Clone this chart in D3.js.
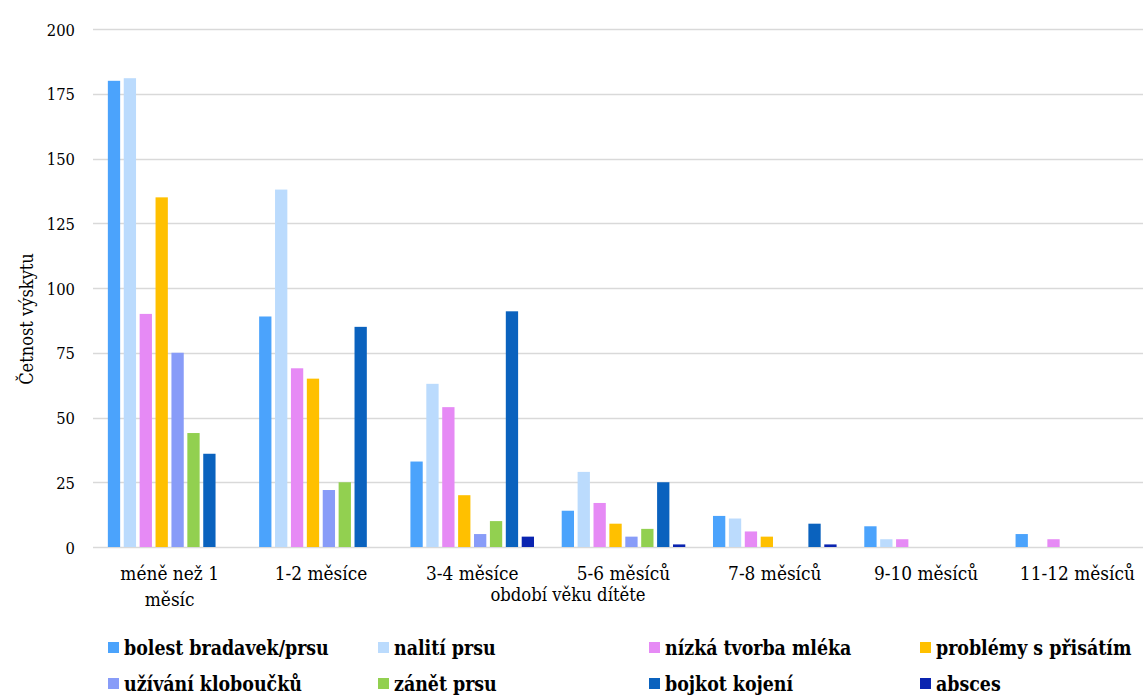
<!DOCTYPE html>
<html lang="cs">
<head>
<meta charset="utf-8">
<script src="https://cdn.jsdelivr.net/npm/d3@7"></script>
<style>
  html, body { margin: 0; padding: 0; background: #fff; }
  svg { display: block; }
</style>
</head>
<body>
<svg id="chart" width="1143" height="695"></svg>
<script>
// Serif face, narrowed horizontally to a Times-like width
const FONT = "DejaVu Serif";
const NARROW = 0.88;

// Age periods of the child (x categories)
const categories = [
  "méně než 1 měsíc", "1-2 měsíce", "3-4 měsíce", "5-6 měsíců",
  "7-8 měsíců", "9-10 měsíců", "11-12 měsíců"
];
// Category labels split into lines
const categoryLines = [
  ["méně než 1", "měsíc"], ["1-2 měsíce"], ["3-4 měsíce"], ["5-6 měsíců"],
  ["7-8 měsíců"], ["9-10 měsíců"], ["11-12 měsíců"]
];

// Problems during breastfeeding (series)
const seriesNames = [
  "bolest bradavek/prsu", "nalití prsu", "nízká tvorba mléka", "problémy s přisátím",
  "užívání kloboučků", "zánět prsu", "bojkot kojení", "absces"
];
const seriesColors = [
  "#4ba3fc", "#bbdbfd", "#e68af5", "#ffc000",
  "#889cf8", "#92d050", "#0a62be", "#0a24b0"
];

// Counts per series, one value per age period
const bolestBradavek  = [180, 89, 33, 14, 12, 8, 5];
const nalitiPrsu      = [181, 138, 63, 29, 11, 3, 0];
const nizkaTvorba     = [90, 69, 54, 17, 6, 3, 3];
const problemyPrisati = [135, 65, 20, 9, 4, 0, 0];
const uzivaniKlobouck = [75, 22, 5, 4, 0, 0, 0];
const zanetPrsu       = [44, 25, 10, 7, 0, 0, 0];
const bojkotKojeni    = [36, 85, 91, 25, 9, 0, 0];
const absces          = [0, 0, 4, 1, 1, 0, 0];

const seriesValues = [
  bolestBradavek, nalitiPrsu, nizkaTvorba, problemyPrisati,
  uzivaniKlobouck, zanetPrsu, bojkotKojeni, absces
];

const yTicks = [0, 25, 50, 75, 100, 125, 150, 175, 200];

const svg = d3.select("#chart");

// Plot area
const plotLeft = 94, plotRight = 1153, plotTop = 29, plotBottom = 547;

const x0 = d3.scaleBand()
  .domain(categories)
  .range([plotLeft, plotRight])
  .paddingInner(0)
  .paddingOuter(0);

const groupPad = 13.85;
const x1 = d3.scaleBand()
  .domain(seriesNames)
  .range([groupPad, x0.bandwidth() - groupPad])
  .paddingInner(0.2264)
  .paddingOuter(0);

const y = d3.scaleLinear().domain([0, 200]).range([plotBottom, plotTop]);

// Horizontal gridlines
svg.append("g")
  .selectAll("line")
  .data(yTicks)
  .join("line")
  .attr("x1", plotLeft - 1)
  .attr("x2", 1143)
  .attr("y1", d => Math.round(y(d)) + 0.5)
  .attr("y2", d => Math.round(y(d)) + 0.5)
  .attr("stroke", "#d9d9d9")
  .attr("stroke-width", 1.3);

// Y axis tick labels
const yAxis = d3.axisLeft(y).tickValues(yTicks).tickSize(0).tickPadding(0);
const yg = svg.append("g")
  .attr("transform", "translate(75,0)")
  .call(yAxis)
  .attr("font-family", FONT)
  .attr("font-size", 16.8);
yg.select(".domain").remove();
yg.selectAll("text")
  .attr("x", 0)
  .attr("fill", "#000")
  .attr("dy", "0.36em")
  .attr("transform", `scale(${NARROW},1)`);

// Bars
const rows = [];
categories.forEach((c, ci) => {
  seriesNames.forEach((s, si) => {
    rows.push({ category: c, series: s, color: seriesColors[si], value: seriesValues[si][ci] });
  });
});

svg.append("g")
  .selectAll("rect")
  .data(rows.filter(d => d.value > 0))
  .join("rect")
  .attr("x", d => x0(d.category) + x1(d.series))
  .attr("y", d => y(d.value))
  .attr("width", x1.bandwidth())
  .attr("height", d => y(0) - y(d.value))
  .attr("fill", d => d.color);

// X category labels
const xl = svg.append("g");
categories.forEach((c, i) => {
  const cx = x0(c) + x0.bandwidth() / 2;
  const t = xl.append("text")
    .attr("transform", `translate(${cx},580) scale(${NARROW},1)`)
    .attr("text-anchor", "middle")
    .attr("font-family", FONT)
    .attr("font-size", 19.3)
    .attr("fill", "#000");
  categoryLines[i].forEach((line, li) => {
    t.append("tspan")
      .attr("x", 0)
      .attr("dy", li === 0 ? 0 : 26)
      .text(line);
  });
});

// Axis titles
svg.append("text")
  .attr("transform", `translate(568,601) scale(${NARROW},1)`)
  .attr("text-anchor", "middle")
  .attr("font-family", FONT)
  .attr("font-size", 18.7)
  .attr("fill", "#000")
  .text("období věku dítěte");

svg.append("text")
  .attr("transform", `translate(33,319) rotate(-90) scale(${NARROW},1)`)
  .attr("text-anchor", "middle")
  .attr("font-family", FONT)
  .attr("font-size", 18.5)
  .attr("fill", "#000")
  .text("Četnost výskytu");

// Legend: 4 columns, 2 rows
const legendCols = [108, 378, 649, 920];
const legendRows = [648, 684];
const legend = svg.append("g")
  .selectAll("g")
  .data(seriesNames)
  .join("g")
  .attr("transform", (d, i) => `translate(${legendCols[i % 4]},${legendRows[Math.floor(i / 4)]})`);

legend.append("rect")
  .attr("x", 0)
  .attr("y", -6)
  .attr("width", 11)
  .attr("height", 11)
  .attr("fill", (d, i) => seriesColors[i]);

legend.append("text")
  .attr("transform", `translate(16,0) scale(${NARROW},1)`)
  .attr("dy", "0.35em")
  .attr("font-family", FONT)
  .attr("font-size", 19.8)
  .attr("font-weight", "bold")
  .attr("fill", "#000")
  .text(d => d);
</script>
</body>
</html>
